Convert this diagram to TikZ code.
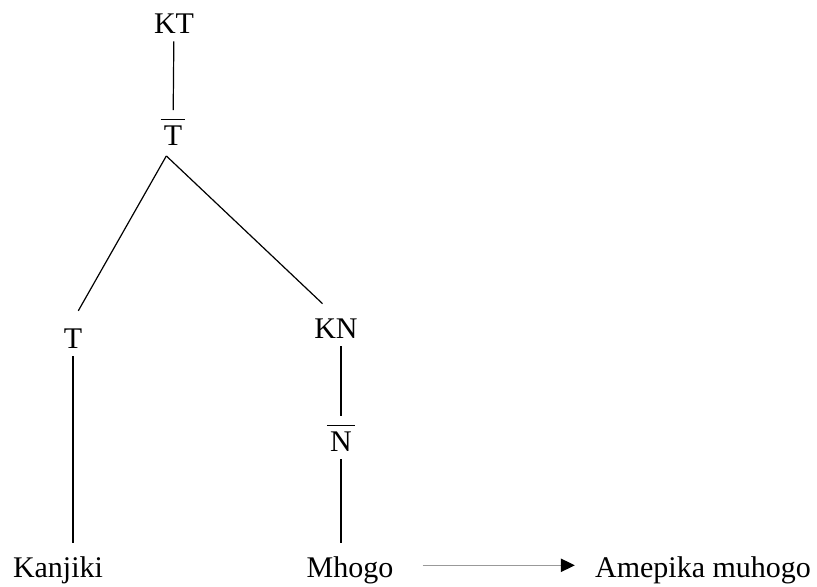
\documentclass[tikz,border=0pt]{standalone}
\usepackage{fontspec}
\setmainfont{Liberation Serif}
\usetikzlibrary{arrows.meta}
\newcommand{\barcat}[1]{$\overline{\mbox{\hspace{2.5pt}\rule{0pt}{18pt}#1\hspace{2.5pt}}}$}

\begin{document}
\begin{tikzpicture}[x=0.75pt, y=-0.75pt]

  % Define styles for categories and words
  \tikzstyle{cat} = [inner sep=6pt, anchor=base, font=\fontsize{22.5pt}{27pt}\selectfont]
  \tikzstyle{branch} = [line width=0.9pt]
  \tikzstyle{rewrite} = [draw=gray!80, line width=1pt, -{Triangle[length=10.5pt, width=10pt, black]}]

  \useasboundingbox (0,0) rectangle (817,586);

  % Categories
  \node[cat] (kt) at (174,33) {KT};
  \node[cat] (tbar) at (173,145) {\barcat{T}};
  \node[cat] (tl) at (73,348) {T};
  \node[cat] (kn) at (336,338) {KN};
  \node[cat] (nbar) at (341,451) {\barcat{N}};

  % Words
  \node[cat] (kanjiki) at (58,577) {Kanjiki};
  \node[cat] (mhogo) at (350,577) {Mhogo};
  \node[cat] (amepika) at (703,577) {Amepika muhogo};

  % Branches
  \draw[branch] (kt) -- (tbar);
  \draw[branch, shorten >=8pt] ([xshift=-5pt, yshift=-2pt]tbar.south) -- (tl.north);
  \draw[branch, shorten >=7pt] ([xshift=-5pt, yshift=-2pt]tbar.south) -- ([xshift=-5pt]kn.north);
  \draw[branch, shorten >=4pt] (tl) -- (tl |- kanjiki.north);
  \draw[branch] (nbar |- kn.south) -- (nbar);
  \draw[branch, shorten >=4pt] (nbar) -- (nbar |- mhogo.north);

  % Rewrite arrow
  \draw[rewrite, shorten <=15.75pt, shorten >=9pt] ([yshift=3.4pt]mhogo.east) -- ([yshift=3.4pt]amepika.west);

\end{tikzpicture}
\end{document}
